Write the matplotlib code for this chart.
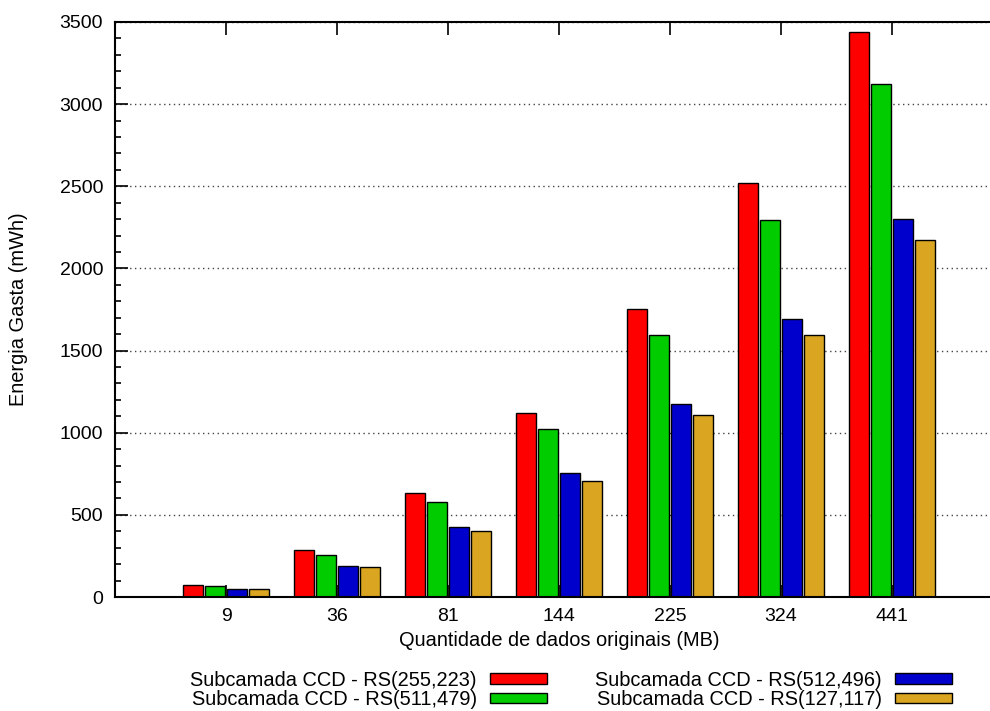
import matplotlib
matplotlib.use("Agg")
import matplotlib.pyplot as plt
from matplotlib.ticker import MultipleLocator
import numpy as np

categories = ["9", "36", "81", "144", "225", "324", "441"]
series_names = [
    "Subcamada CCD - RS(255,223)",
    "Subcamada CCD - RS(511,479)",
    "Subcamada CCD - RS(512,496)",
    "Subcamada CCD - RS(127,117)",
]
rs_255_223 = [73, 286, 631, 1123, 1752, 2523, 3437]
rs_511_479 = [67, 257, 576, 1020, 1593, 2295, 3122]
rs_512_496 = [50, 190, 424, 753, 1174, 1690, 2303]
rs_127_117 = [48, 181, 400, 709, 1107, 1597, 2171]
series_values = [rs_255_223, rs_511_479, rs_512_496, rs_127_117]
colors = ["#ff0000", "#00cc00", "#0000cc", "#daa520"]

plt.rcParams['font.family'] = ['Liberation Sans', 'DejaVu Sans']
FS = 14
LFS = 14.4

fig = plt.figure(figsize=(9.9, 7.11), dpi=100)
ax = fig.add_axes([115/990, 1 - 597/711, 888/990, (597 - 22)/711])

x = np.arange(len(categories))
width = 0.18
pitch = 0.2
handles = []
for i, (vals, col, name) in enumerate(zip(series_values, colors, series_names)):
    b = ax.bar(x + (i - 1.5) * pitch, vals, width=width, color=col,
               edgecolor="black", linewidth=1.0, label=name, zorder=2)
    handles.append(b)

ax.set_xlim(-1, 7)
ax.set_ylim(0, 3500)
ax.set_xticks(x)
ax.set_xticklabels(categories)
ax.yaxis.set_major_locator(MultipleLocator(500))
ax.yaxis.set_minor_locator(MultipleLocator(100))

ax.tick_params(axis='both', which='major', direction='in', length=9, width=1.2,
               labelsize=FS, color='black')
ax.tick_params(axis='y', which='major', pad=8.5)
ax.tick_params(axis='x', which='major', pad=8, top=True)
ax.tick_params(axis='y', which='minor', direction='in', length=4.5, width=1.2)
ax.tick_params(axis='x', which='minor', bottom=False, top=False)

for s in ['top', 'left', 'bottom', 'right']:
    ax.spines[s].set_linewidth(1.5)
    ax.spines[s].set_color('black')

ax.set_axisbelow(True)
ax.yaxis.grid(True, which='major', linestyle=(0, (1, 2.5)), color='#444444', linewidth=1.0)

ax.set_ylabel("Energia Gasta (mWh)", fontsize=LFS)
ax.set_xlabel("Quantidade de dados originais (MB)", fontsize=LFS, labelpad=4)
ax.yaxis.set_label_coords((28 - 115) / 888, 0.5)

leg = fig.legend(handles=handles, labels=series_names, ncol=2, markerfirst=False,
                 loc='center', bbox_to_anchor=(571/990, 1 - 690/711),
                 frameon=False, fontsize=LFS, handlelength=2.85, handleheight=0.45,
                 handletextpad=0.65, columnspacing=2.4, labelspacing=0.02,
                 borderpad=0, borderaxespad=0)

fig.savefig("out.png", dpi=100)
